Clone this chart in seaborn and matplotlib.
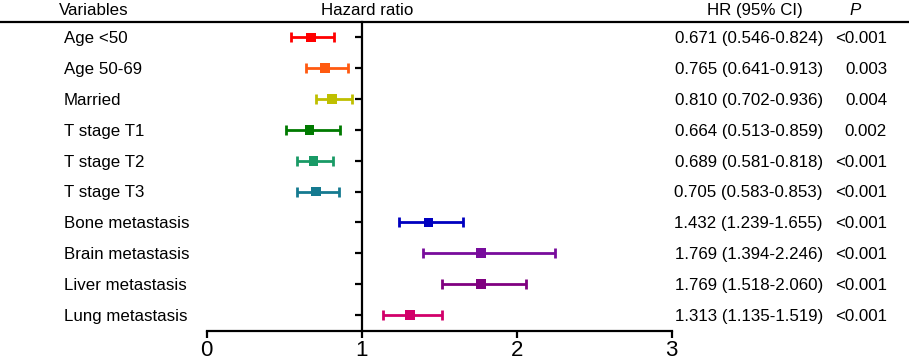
import matplotlib
matplotlib.use("Agg")
import matplotlib.pyplot as plt
import seaborn as sns
import pandas as pd
import numpy as np
from matplotlib.lines import Line2D

variables = ["Age <50", "Age 50-69", "Married", "T stage T1", "T stage T2", "T stage T3",
             "Bone metastasis", "Brain metastasis", "Liver metastasis", "Lung metastasis"]
hr = [0.671, 0.765, 0.810, 0.664, 0.689, 0.705, 1.432, 1.769, 1.769, 1.313]
ci_low = [0.546, 0.641, 0.702, 0.513, 0.581, 0.583, 1.239, 1.394, 1.518, 1.135]
ci_high = [0.824, 0.913, 0.936, 0.859, 0.818, 0.853, 1.655, 2.246, 2.060, 1.519]
p_values = ["<0.001", "0.003", "0.004", "0.002", "<0.001", "<0.001", "<0.001", "<0.001", "<0.001", "<0.001"]
colors = ["#FF0000", "#FF5A10", "#BFBF00", "#007A00", "#199A66", "#157A90",
          "#0000C0", "#780C9C", "#800080", "#D2006A"]
x_ticks = [0, 1, 2, 3]

df = pd.DataFrame({"variable": variables, "hr": hr, "lo": ci_low, "hi": ci_high,
                   "row": np.arange(len(variables))})

sns.set_style("white")
plt.rcParams["font.family"] = ["Liberation Sans", "DejaVu Sans"]
plt.rcParams["text.color"] = "black"
plt.rcParams["xtick.color"] = "black"
plt.rcParams["ytick.color"] = "black"

W, H = 909, 360
fig = plt.figure(figsize=(W / 100, H / 100), dpi=100)
x0, x3 = 206.7, 671.7
ytop, ybot = 22, 331
ax = fig.add_axes([x0 / W, (H - ybot) / H, (x3 - x0) / W, (ybot - ytop) / H])

lw = 1.6
# CI lines with caps
for i, r in df.iterrows():
    ax.errorbar(r["hr"], r["row"], xerr=[[r["hr"] - r["lo"]], [r["hi"] - r["hr"]]],
                fmt="none", ecolor=colors[i], elinewidth=2.0, capsize=3.6, capthick=2.0, zorder=2)

sns.scatterplot(data=df, x="hr", y="row", hue="variable", palette=colors, marker="s",
                s=48, edgecolor="none", legend=False, ax=ax, zorder=3)

ax.set_xlim(0, 3)
ax.set_ylim(9.52, -0.5)
ax.set_xlabel("")
ax.set_ylabel("")
ax.set_xticks(x_ticks)
ax.set_xticklabels([str(t) for t in x_ticks], fontsize=16, color="black")
ax.set_yticks(df["row"])
ax.set_yticklabels([])
for s in ["top", "right"]:
    ax.spines[s].set_visible(False)
ax.spines["left"].set_position(("data", 1))
ax.spines["left"].set_linewidth(lw)
ax.spines["bottom"].set_linewidth(lw)
ax.spines["left"].set_color("black")
ax.spines["bottom"].set_color("black")
ax.tick_params(axis="x", bottom=True, direction="out", length=5, width=lw, pad=1.5, colors="black")
ax.tick_params(axis="y", left=True, direction="out", length=5, width=lw, colors="black")
ax.patch.set_alpha(0)

# top rule
fig.add_artist(Line2D([0, 1], [(H - 21.5) / H, (H - 21.5) / H], color="black", lw=lw,
                      transform=fig.transFigure))

fs = 12.2
def fy(ypx):
    return (H - ypx) / H

# headers
fig.text(59 / W, fy(15), "Variables", fontsize=fs, va="baseline", ha="left", color="black")
fig.text(367 / W, fy(15), "Hazard ratio", fontsize=fs, va="baseline", ha="center", color="black")
fig.text(755 / W, fy(15), "HR (95% CI)", fontsize=fs, va="baseline", ha="center", color="black")
fig.text(855 / W, fy(15), "P", fontsize=fs, va="baseline", ha="center", style="italic", color="black")

# row texts
for i in range(len(variables)):
    y = ax.transData.transform((0, i))[1] / H
    ypos = y - 5.8 / H
    fig.text(64 / W, ypos, variables[i], fontsize=fs, va="baseline", ha="left", color="black")
    fig.text(823 / W, ypos, f"{hr[i]:.3f} ({ci_low[i]:.3f}-{ci_high[i]:.3f})",
             fontsize=fs, va="baseline", ha="right", color="black")
    fig.text(887 / W, ypos, p_values[i], fontsize=fs, va="baseline", ha="right", color="black")

fig.savefig("out.png", dpi=100)
